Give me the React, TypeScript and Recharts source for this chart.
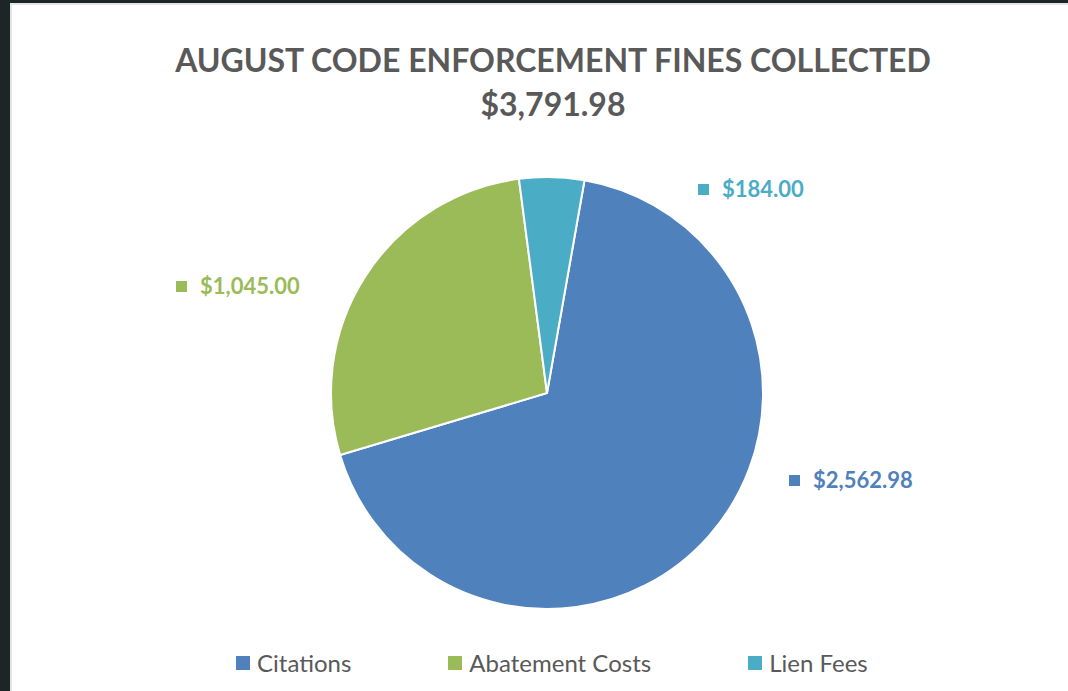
import React from "react";
import { PieChart, Pie, Cell } from "recharts";

const categories = ["Citations", "Abatement Costs", "Lien Fees"];
const amounts = [2562.98, 1045.0, 184.0];
const valueLabels = ["$2,562.98", "$1,045.00", "$184.00"];
const titleLine1 = "AUGUST CODE ENFORCEMENT FINES COLLECTED";
const titleLine2 = "$3,791.98";

const COLORS = ["#4F81BD", "#9BBB59", "#4BACC6"];
const FONT = "Lato, 'Open Sans', sans-serif";

// label anchor offsets relative to pie centre (layout only)
const LABEL_OFFSETS = [
  { dx: 266, dy: 88 },
  { dx: -347, dy: -106 },
  { dx: 175, dy: -203 },
];

const data = categories.map((name, i) => ({ name, value: amounts[i], label: valueLabels[i] }));

const renderLabel = (props: any) => {
  const { cx, cy, index } = props;
  const off = LABEL_OFFSETS[index];
  const x = cx + off.dx;
  const y = cy + off.dy;
  return (
    <g key={"lbl" + index}>
      <rect x={x - 24} y={y - 6} width={11} height={11} fill={COLORS[index]} />
      <text
        x={x}
        y={y + 7}
        fill={COLORS[index]}
        fontFamily={FONT}
        fontWeight={700}
        fontSize={22}
        textAnchor="start"
      >
        {data[index].label}
      </text>
    </g>
  );
};

export default function App() {
  return (
    <div style={{ position: "fixed", left: 0, top: 0, width: 1068, height: 691, background: "#1e2527", overflow: "hidden" }}>
      <div
        style={{
          position: "absolute",
          left: 10,
          top: 3,
          width: 1058,
          height: 688,
          background: "#ffffff",
          borderLeft: "2px solid #e4e4e4",
          borderTop: "2px solid #e4e4e4",
          boxSizing: "border-box",
        }}
      />
      <div
        style={{
          position: "absolute",
          left: 0,
          top: 38,
          width: 1106,
          textAlign: "center",
          fontFamily: FONT,
          fontWeight: 700,
          color: "#595959",
          fontSize: 32,
          lineHeight: "44px",
        }}
      >
        <div>{titleLine1}</div>
        <div>{titleLine2}</div>
      </div>
      <div style={{ position: "absolute", left: 0, top: 0 }}>
        <PieChart width={1068} height={691} margin={{ top: 0, right: 0, bottom: 0, left: 0 }}>
          <Pie
            data={data}
            dataKey="value"
            nameKey="name"
            cx={547}
            cy={393}
            outerRadius={216}
            startAngle={80}
            endAngle={-280}
            stroke="#ffffff"
            strokeWidth={2}
            label={renderLabel}
            labelLine={false}
            isAnimationActive={false}
          >
            {data.map((d, i) => (
              <Cell key={d.name} fill={COLORS[i]} />
            ))}
          </Pie>
        </PieChart>
      </div>
      <div
        style={{
          position: "absolute",
          left: 236,
          top: 648,
          display: "flex",
          alignItems: "center",
          gap: 97,
          fontFamily: FONT,
          fontSize: 24,
          color: "#595959",
          whiteSpace: "nowrap",
        }}
      >
        {categories.map((c, i) => (
          <div key={c} style={{ display: "flex", alignItems: "center" }}>
            <span style={{ display: "inline-block", width: 14, height: 14, background: COLORS[i], marginRight: 7 }} />
            <span>{c}</span>
          </div>
        ))}
      </div>
    </div>
  );
}
